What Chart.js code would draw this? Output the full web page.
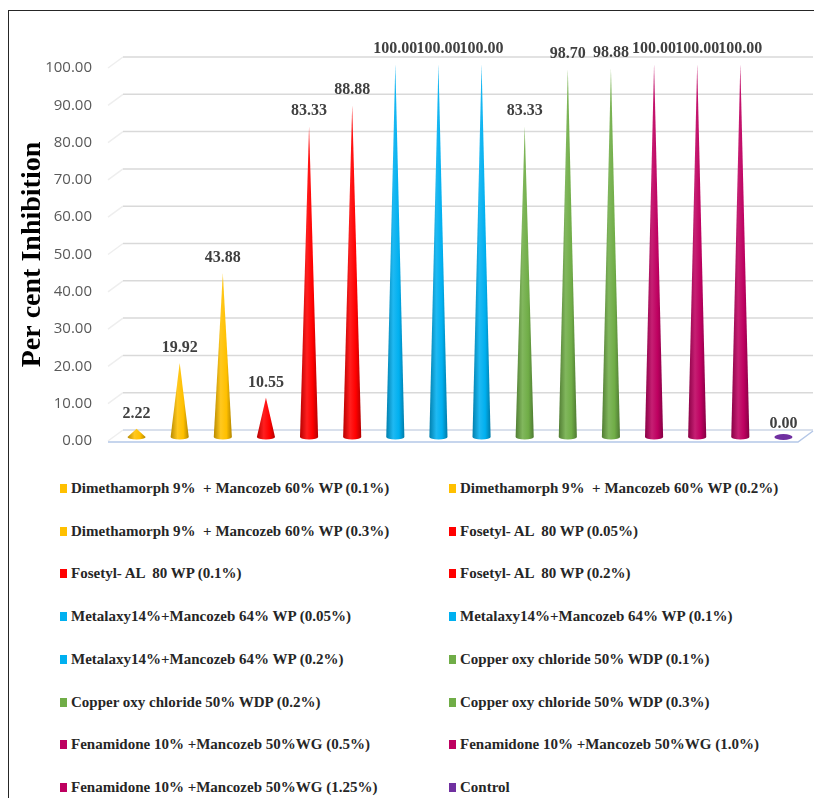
<!DOCTYPE html>
<html>
<head>
<meta charset="utf-8">
<script src="https://cdn.jsdelivr.net/npm/chart.js@4.4.1/dist/chart.umd.min.js"></script>
<style>
    html, body { margin: 0; padding: 0; background: #fff; overflow: hidden; }
    body { width: 814px; height: 798px; position: relative; }
    .frame { position: absolute; left: 8px; top: 10px; width: 806px; height: 788px; box-sizing: border-box;
             border-top: 1.5px solid #262626; border-left: 1.5px solid #262626; }
    #chart { position: absolute; left: 0; top: 0; }
    .legend-item { position: absolute; white-space: pre; font: bold 15px 'Liberation Serif', 'Times New Roman', serif;
                   color: #262626; line-height: 18px; }
    .legend-item i { display: inline-block; width: 7px; height: 9px; margin-right: 4px; vertical-align: 0px; }
</style>
</head>
<body>
<div class="frame"></div>
<canvas id="chart" width="814" height="470"></canvas>
<div id="legend"></div>
<script>
const treatments = [
    'Dimethamorph 9%  + Mancozeb 60% WP (0.1%)',
    'Dimethamorph 9%  + Mancozeb 60% WP (0.2%)',
    'Dimethamorph 9%  + Mancozeb 60% WP (0.3%)',
    'Fosetyl- AL  80 WP (0.05%)',
    'Fosetyl- AL  80 WP (0.1%)',
    'Fosetyl- AL  80 WP (0.2%)',
    'Metalaxy14%+Mancozeb 64% WP (0.05%)',
    'Metalaxy14%+Mancozeb 64% WP (0.1%)',
    'Metalaxy14%+Mancozeb 64% WP (0.2%)',
    'Copper oxy chloride 50% WDP (0.1%)',
    'Copper oxy chloride 50% WDP (0.2%)',
    'Copper oxy chloride 50% WDP (0.3%)',
    'Fenamidone 10% +Mancozeb 50%WG (0.5%)',
    'Fenamidone 10% +Mancozeb 50%WG (1.0%)',
    'Fenamidone 10% +Mancozeb 50%WG (1.25%)',
    'Control'
];
const inhibition = [2.22, 19.92, 43.88, 10.55, 83.33, 88.88, 100.00, 100.00, 100.00,
    83.33, 98.70, 98.88, 100.00, 100.00, 100.00, 0.00];
const yTicks = [0, 10, 20, 30, 40, 50, 60, 70, 80, 90, 100];

const GOLD = '#FFC000', RED = '#FF0000', BLUE = '#00B0F0', GREEN = '#70AD47', MAROON = '#BE0060', PURPLE = '#7030A0';
const coneColors = [GOLD, GOLD, GOLD, RED, RED, RED, BLUE, BLUE, BLUE,
    GREEN, GREEN, GREEN, MAROON, MAROON, MAROON, PURPLE];

// depth of the fake 3d box
const DX = 15, DY = -11;
// cones stand halfway into the floor
const CONE_DX = 7, CONE_DY = -4;

function mix(hex, amt) {
    const n = parseInt(hex.slice(1), 16);
    let r = (n >> 16) & 255, g = (n >> 8) & 255, b = n & 255;
    const t = amt < 0 ? 0 : 255, p = Math.abs(amt);
    r = Math.round(r + (t - r) * p);
    g = Math.round(g + (t - g) * p);
    b = Math.round(b + (t - b) * p);
    return `rgb(${r},${g},${b})`;
}

function drawCone(ctx, cx, tipY, baseY, hw, color) {
    const g = ctx.createLinearGradient(cx - hw, 0, cx + hw, 0);
    g.addColorStop(0, mix(color, -0.28));
    g.addColorStop(0.38, mix(color, 0.12));
    g.addColorStop(0.7, color);
    g.addColorStop(1, mix(color, -0.3));
    ctx.fillStyle = g;
    ctx.beginPath();
    ctx.moveTo(cx, tipY);
    ctx.lineTo(cx + hw, baseY);
    ctx.ellipse(cx, baseY, hw, 2.5, 0, 0, Math.PI);
    ctx.closePath();
    ctx.fill();
}

const boxPlugin = {
    id: 'box3d',
    beforeDatasetsDraw(chart) {
        const { ctx, chartArea: { left, right }, scales: { y } } = chart;
        ctx.save();
        ctx.lineWidth = 1.5;
        yTicks.forEach(v => {
            const py = y.getPixelForValue(v);
            // side wall
            ctx.strokeStyle = '#eeeeee';
            ctx.beginPath();
            ctx.moveTo(left, py);
            ctx.lineTo(left + DX, py + DY);
            ctx.stroke();
            // back wall
            ctx.strokeStyle = v === 0 ? '#cdd6e6' : '#d9d9d9';
            ctx.beginPath();
            ctx.moveTo(left + DX, py + DY);
            ctx.lineTo(right + DX, py + DY);
            ctx.stroke();
        });
        // floor front edge
        const p0 = y.getPixelForValue(0) + 1;
        ctx.strokeStyle = '#b4c7e7';
        ctx.beginPath();
        ctx.moveTo(left, p0);
        ctx.lineTo(right, p0);
        ctx.lineTo(right + DX, p0 + DY);
        ctx.stroke();
        ctx.restore();
    },
    beforeDatasetDraw() {
        return false;
    },
    afterDatasetsDraw(chart) {
        const { ctx } = chart;
        const meta = chart.getDatasetMeta(0);
        ctx.save();
        ctx.font = "bold 16px 'Liberation Serif', 'Times New Roman', serif";
        ctx.textAlign = 'center';
        ctx.textBaseline = 'alphabetic';
        meta.data.forEach((bar, i) => {
            const cx = bar.x + CONE_DX;
            const baseY = bar.base + CONE_DY;
            const tipY = bar.y + CONE_DY;
            const hw = bar.width / 2;
            if (inhibition[i] === 0) {
                ctx.fillStyle = coneColors[i];
                ctx.beginPath();
                ctx.ellipse(cx, baseY, hw, 3, 0, 0, Math.PI * 2);
                ctx.fill();
            } else {
                drawCone(ctx, cx, tipY, baseY, hw, coneColors[i]);
            }
            ctx.fillStyle = '#404040';
            const ly = inhibition[i] === 0 ? baseY - 9.5 : tipY - 11;
            ctx.fillText(inhibition[i].toFixed(2), cx, ly);
        });
        ctx.restore();
    }
};

new Chart(document.getElementById('chart'), {
    type: 'bar',
    data: {
        labels: treatments,
        datasets: [{
            label: 'Per cent Inhibition',
            data: inhibition,
            backgroundColor: coneColors,
            categoryPercentage: 1,
            barPercentage: 0.42
        }]
    },
    options: {
        responsive: false,
        animation: false,
        devicePixelRatio: 1,
        layout: { padding: { left: 0, right: 16, top: 68, bottom: 29 } },
        plugins: {
            legend: { display: false },
            tooltip: { enabled: false }
        },
        scales: {
            x: { display: false },
            y: {
                min: 0,
                max: 100,
                afterFit: scale => { scale.width = 108; },
                grid: { display: false, drawTicks: false },
                border: { display: false },
                ticks: {
                    stepSize: 10,
                    padding: 16,
                    color: '#595959',
                    font: { family: "'Open Sans', 'Liberation Sans', sans-serif", size: 15 },
                    callback: value => value.toFixed(2)
                },
                title: {
                    display: true,
                    text: 'Per cent Inhibition',
                    color: '#000',
                    padding: { top: 16, bottom: 0 },
                    font: { family: "'Liberation Serif', 'Times New Roman', serif", size: 28, weight: 'bold' }
                }
            }
        }
    },
    plugins: [boxPlugin]
});

// legend, two columns, row by row
const legend = document.getElementById('legend');
treatments.forEach((name, i) => {
    const item = document.createElement('div');
    item.className = 'legend-item';
    item.style.left = (i % 2 === 0 ? 60 : 449) + 'px';
    item.style.top = (488 + Math.floor(i / 2) * 42.7 - 9) + 'px';
    item.innerHTML = `<i style="background:${coneColors[i]}"></i>`;
    item.appendChild(document.createTextNode(name));
    legend.appendChild(item);
});
</script>
</body>
</html>
